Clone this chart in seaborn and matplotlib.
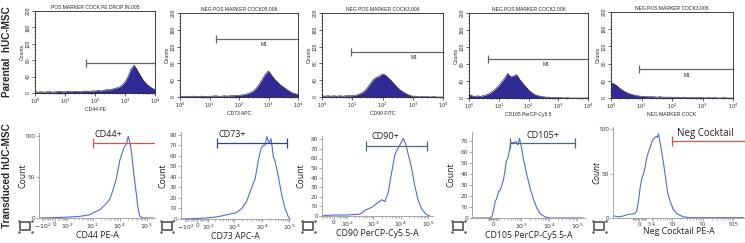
import numpy as np
import matplotlib
matplotlib.use("Agg")
import matplotlib.pyplot as plt
import seaborn as sns
from matplotlib.patches import Rectangle
from matplotlib.lines import Line2D
from matplotlib.ticker import FixedLocator, NullFormatter

sns.set_style("white")
plt.rcParams["font.family"] = ["Open Sans", "DejaVu Sans"]

# ---------------- data: parental (top row) ----------------
top_channels_log = [0.0, 0.1, 0.2, 0.3, 0.4, 0.5, 0.6, 0.7, 0.8, 0.9,
                    1.0, 1.1, 1.2, 1.3, 1.4, 1.5, 1.6, 1.7, 1.8, 1.9,
                    2.0, 2.1, 2.2, 2.3, 2.4, 2.5, 2.6, 2.7, 2.8, 2.9,
                    3.0, 3.1, 3.2, 3.3, 3.4, 3.5, 3.6, 3.7, 3.8, 3.9, 4.0]
par_cd44_counts = [3, 2, 3, 2, 3, 3, 2, 3, 4, 3, 3, 4, 3, 4, 4, 3, 4, 5, 4, 5,
                   5, 6, 5, 7, 8, 8, 10, 12, 14, 19, 27, 40, 58, 68, 57, 44, 32, 23, 17, 12, 8]
par_cd73_counts = [2, 1, 2, 1, 2, 2, 1, 2, 2, 1, 2, 2, 3, 2, 2, 3, 2, 3, 3, 4,
                   4, 5, 6, 8, 11, 15, 22, 32, 44, 55, 62, 52, 43, 36, 29, 24, 19, 14, 10, 8, 6]
par_cd90_counts = [3, 2, 3, 2, 3, 2, 3, 2, 3, 3, 3, 4, 6, 9, 14, 22, 32, 42, 47, 50,
                   55, 52, 45, 38, 30, 22, 16, 11, 7, 4, 2, 2, 1, 1, 1, 1, 0, 1, 0, 0, 0]
par_cd105_counts = [9, 5, 4, 5, 4, 6, 8, 11, 16, 22, 29, 38, 47, 58, 50, 52, 55, 44, 35, 27,
                    19, 13, 8, 6, 4, 3, 2, 2, 1, 1, 1, 1, 0, 1, 0, 0, 0, 0, 0, 0, 0]
par_neg_counts = [35, 33, 28, 22, 17, 13, 10, 8, 6, 5, 4, 4, 3, 3, 3, 2, 3, 2, 2, 2,
                  2, 1, 2, 1, 2, 1, 1, 1, 1, 1, 1, 0, 1, 0, 1, 0, 0, 1, 0, 0, 0]
par_titles = ["POS MARKER COCK PE DROP IN.005", "NEG POS MARKER COCK05.006",
              "NEG POS MARKER COCK3.006", "NEG POS MARKER COCK2.006",
              "NEG POS MARKER COCK3.006"]
par_xlabels = ["CD44 PE", "CD73 APC", "CD90 FITC", "CD105 PerCP-Cy5.5", "NEG MARKER COCK"]
par_gate_start = [50, 16, 9, 4.4, 8]
par_gate_level = [72, 138, 107, 92, 67]
par_m1_x = [None, 708, 1122, 398, 316]
par_m1_y = [None, 126, 94, 78, 53]

# ---------------- data: transduced (bottom row) ----------------
cd44_intensity = [-132, 0, 94, 334, 792, 1147, 1864, 2857, 4363, 5816, 7696, 10280, 14450,
                  18160, 20880, 24080, 27700, 32160, 36960, 42560, 48960, 56320, 75200, 176000]
cd44_count = [0, 0.5, 1, 2, 4, 7, 10, 16, 23, 35, 49, 71, 86, 91, 100, 92, 80, 59, 43, 27, 10, 2, 0, 0]
cd73_intensity = [-144, 0, 84, 229, 540, 1180, 1890, 2871, 3789, 5740, 7530, 9450, 11430, 13140,
                  15120, 18360, 21690, 26280, 30240, 39960, 52380, 69300, 91620, 105000]
cd73_count = [0, 0.5, 1, 2, 4, 6, 10, 17, 26, 38, 56, 67, 70, 70, 78, 72, 76, 59, 55, 40, 23, 10, 2, 0]
cd90_intensity = [-66, 0, 96, 323, 495, 868, 1323, 2009, 2660, 3514, 4655, 6160, 8120, 10150,
                  12390, 14980, 18690, 24710, 32690, 43190, 57260, 82880, 115500]
cd90_count = [0.5, 1, 1, 2, 6, 9, 13, 17, 15, 25, 45, 64, 71, 76, 81, 76, 65, 51, 32, 17, 8, 2, 0]
cd105_intensity = [-484, -50, -22, 5, 33, 61, 90, 121, 155, 191, 231, 256, 303, 346, 404, 514,
                   646, 747, 860, 988, 1202, 1584, 2080, 2740, 3620, 4740, 7160, 10800, 167000]
cd105_count = [0, 0, 1.5, 7, 15, 18, 24, 25, 30, 35, 44, 51, 54, 60, 68, 68, 69, 66, 72, 65,
               53, 39, 27, 17, 9, 4, 1, 0, 0]
neg_intensity = [-573, -384, -250, -151, -98, -52, -30, -9, 13, 34, 56, 79, 104, 146, 187, 235,
                 281, 314, 343, 374, 417, 488, 588, 705, 867, 1115, 1510, 2363, 3910, 216000]
neg_count = [2, 1, 2, 4, 4, 5, 8, 20, 35, 45, 50, 58, 69, 78, 86, 90, 92, 91, 95, 88, 80, 67,
             48, 29, 18, 9, 4, 1, 0, 0]

tr_xlabels = ["CD44 PE-A", "CD73 APC-A", "CD90 PerCP-Cy5.5-A", "CD105 PerCP-Cy5.5-A", "Neg Cocktail PE-A"]
tr_gate_labels = ["CD44+", "CD73+", "CD90+", "CD105+", "Neg Cocktail"]
tr_gate_start = [1052, 229, 539, 380, 983]
tr_gate_end = [400000, 83900, 92540, 84400, 400000]
tr_gate_level = [92, 72, 73, 68, 87]
tr_label_x = [1210, 264, 868, 1600, 1437]
tr_label_y = [102, 80, 83, 75, 95]
tr_gate_colors = ["#e0504a", "#34418a", "#4d6b73", "#4d6b73", "#e0504a"]
tr_yticks = [[0, 50, 100], list(range(0, 81, 10)), list(range(0, 81, 10)),
             list(range(0, 71, 10)), [0, 50, 100]]
tr_xticks = [[-100, 0, 100, 1000, 10000, 100000],
             [-100, 0, 100, 1000, 10000, 100000],
             [0, 100, 1000, 10000, 100000],
             [0, 1000, 10000, 100000],
             [0, 180, 1000, 10000, 100000]]
tr_xticklabels = [[r"$-10^2$", "0", r"$10^2$", r"$10^3$", r"$10^4$", r"$10^5$"],
                  [r"$-10^2$", "0", r"$10^2$", r"$10^3$", r"$10^4$", r"$10^5$"],
                  ["0", r"$10^2$", r"$10^3$", r"$10^4$", r"$10^5$"],
                  ["0", r"$10^3$", r"$10^4$", r"$10^5$"],
                  ["0", "3 4", "10", "10", "105"]]

# ---------------- layout (pixel boxes) ----------------
W, H = 745, 243
fig = plt.figure(figsize=(W / 100, H / 100), dpi=100)


def box(x0, y0, x1, y1):
    return [x0 / W, 1 - y1 / H, (x1 - x0) / W, (y1 - y0) / H]


top_boxes = [(35, 11, 155, 93), (180, 13, 298, 97), (322, 13, 443, 97),
             (469, 13, 588, 98), (611, 12, 733, 98)]
bot_boxes = [(39, 133, 155, 218), (181, 132, 290, 219), (322, 135.5, 433, 216),
             (472, 131.7, 585, 218), (613, 126.7, 745, 217.7)]
bot_count_offset = [-16, -18, -21, -21, -16]
bot_lw = [80, 90, 70, 200, 170]
bot_xlim = [(-142, 2.04e5), (-158, 1.05e5), (-80, 1.53e5), (-558, 1.92e5), (-604, 2.46e5)]
bot_ylim = [(0, 104), (0, 82.5), (0, 84), (0, 78), (0, 103)]

top_counts = [par_cd44_counts, par_cd73_counts, par_cd90_counts, par_cd105_counts, par_neg_counts]
top_x = 10 ** np.array(top_channels_log)
tiny = dict(family=["Liberation Sans", "DejaVu Sans"], fontsize=3.6)

for i in range(5):
    ax = fig.add_axes(box(*top_boxes[i]))
    ax.fill_between(top_x, top_counts[i], color="#302a94", lw=0)
    sns.lineplot(x=top_x, y=top_counts[i], ax=ax, color="#15133d", lw=0.4,
                 sort=False, estimator=None)
    ax.set_xscale("log")
    ax.set_xlim(1, 1e4)
    ax.set_ylim(0, 200)
    for s in ax.spines.values():
        s.set_visible(True)
        s.set_color("#222222")
        s.set_linewidth(0.6)
    ax.xaxis.set_major_locator(FixedLocator([1, 10, 100, 1000, 10000]))
    ax.set_xticklabels([r"$10^0$", r"$10^1$", r"$10^2$", r"$10^3$", r"$10^4$"], **tiny)
    ax.xaxis.set_minor_locator(FixedLocator([m * 10 ** k for k in range(4) for m in range(2, 10)]))
    ax.xaxis.set_minor_formatter(NullFormatter())
    ax.set_yticks([0, 40, 80, 120, 160, 200])
    ax.set_yticklabels(["0", "40", "80", "120", "160", "200"], rotation=90, va="center", **tiny)
    ax.yaxis.set_minor_locator(FixedLocator(list(range(0, 201, 8))))
    ax.tick_params(axis="both", which="major", direction="out", length=2, width=0.5, pad=1,
                   bottom=True, left=True)
    ax.tick_params(axis="both", which="minor", direction="out", length=1, width=0.4,
                   bottom=True, left=True)
    ax.set_title(par_titles[i], pad=1.5, **tiny)
    ax.set_xlabel(par_xlabels[i], labelpad=0.5, **tiny)
    ax.set_ylabel("Counts", labelpad=0.5, **tiny)
    ax.plot([par_gate_start[i], 1e4], [par_gate_level[i]] * 2, color="#666666", lw=0.9,
            marker="|", markersize=6, markevery=[0], mew=0.9, clip_on=False)
    if par_m1_x[i] is not None:
        ax.text(par_m1_x[i], par_m1_y[i], "M1", ha="center", va="center", **tiny)

bot_data = [(cd44_intensity, cd44_count), (cd73_intensity, cd73_count), (cd90_intensity, cd90_count),
            (cd105_intensity, cd105_count), (neg_intensity, neg_count)]
lab_font = dict(family=["Open Sans", "DejaVu Sans"])

for i in range(5):
    ax = fig.add_axes(box(*bot_boxes[i]))
    xs, ys = bot_data[i]
    sns.lineplot(x=xs, y=ys, ax=ax, color="#4a6fd6", lw=0.8, sort=False, estimator=None)
    ax.set_xscale("asinh", linear_width=bot_lw[i])
    ax.set_xlim(*bot_xlim[i])
    ax.set_ylim(*bot_ylim[i])
    sns.despine(ax=ax)
    for s in ("left", "bottom"):
        ax.spines[s].set_color("#9a9a9a")
        ax.spines[s].set_linewidth(0.6)
    ax.xaxis.set_major_locator(FixedLocator(tr_xticks[i]))
    ax.set_xticklabels(tr_xticklabels[i], fontsize=4.5, color="#333333", **lab_font)
    if i == 4:
        ax.get_xticklabels()[1].set_fontsize(3.5)
    minors = [m * 10 ** k for k in range(1, 5) for m in range(2, 10)]
    minors += [-m * 10 for m in range(1, 10)]
    ax.xaxis.set_minor_locator(FixedLocator(minors))
    ax.xaxis.set_minor_formatter(NullFormatter())
    ax.set_yticks(tr_yticks[i])
    ax.set_yticklabels([str(v) for v in tr_yticks[i]], fontsize=4.5, color="#333333", **lab_font)
    ax.tick_params(axis="both", which="major", direction="out", length=2, width=0.5, pad=1,
                   color="#888888", bottom=True, left=True)
    ax.tick_params(axis="x", which="minor", direction="out", length=1.2, width=0.4,
                   color="#888888", bottom=True)
    ax.set_xlabel(tr_xlabels[i], fontsize=6.3, labelpad=0, color="#222222", **lab_font)
    ax.set_ylabel("Count", fontsize=6.3, color="#222222", va="center",
                  style="italic" if i == 4 else "normal", **lab_font)
    axw = bot_boxes[i][2] - bot_boxes[i][0]
    ax.yaxis.set_label_coords(bot_count_offset[i] / axw, 0.5)
    ax.plot([tr_gate_start[i], tr_gate_end[i]], [tr_gate_level[i]] * 2, color=tr_gate_colors[i],
            lw=0.9, marker="|", markersize=7, mew=0.9)
    ax.text(tr_label_x[i], tr_label_y[i], tr_gate_labels[i], ha="left", va="center",
            fontsize=6.5 if i < 4 else 7, color="#222222", clip_on=False, **lab_font)
    # small icon below the axis
    l, b, w, h = ax.get_position().bounds
    x0 = l - 19 / W
    y0 = 1 - 230 / H
    fig.add_artist(Rectangle((x0, y0), 10 / W, 8 / H, transform=fig.transFigure, fill=False,
                             lw=1.1, ec="#444444"))
    for dx in (-1.5, 11.5):
        for dy in (-1.5, 9.5):
            fig.add_artist(Line2D([x0 + dx / W], [y0 + dy / H], transform=fig.transFigure,
                                  marker="o", markersize=0.9, color="#666666", lw=0))

row_font = dict(family=["Liberation Sans", "DejaVu Sans"], fontweight="bold", fontsize=7.2)
fig.text(7 / W, 1 - 52 / H, "Parental  hUC-MSC", rotation=90, ha="center", va="center", **row_font)
fig.text(7 / W, 1 - 176 / H, "Transduced hUC-MSC", rotation=90, ha="center", va="center", **row_font)

fig.savefig("out.png", dpi=100)
